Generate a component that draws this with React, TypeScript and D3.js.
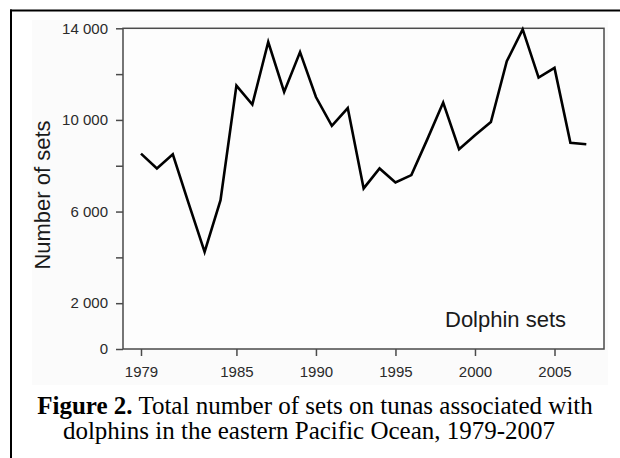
import { useEffect, useRef } from "react"
import * as d3 from "d3"

// Dolphin sets per year
const years = [
  1979, 1980, 1981, 1982, 1983, 1984, 1985, 1986, 1987, 1988, 1989, 1990, 1991, 1992, 1993,
  1994, 1995, 1996, 1997, 1998, 1999, 2000, 2001, 2002, 2003, 2004, 2005, 2006, 2007,
]
const sets = [
  8530, 7880, 8500, 6350, 4240, 6500, 11500, 10670, 13400, 11220, 12960, 11000, 9740, 10520, 7010,
  7880, 7270, 7590, 9150, 10760, 8720, 9330, 9910, 12560, 13950, 11850, 12270, 9000, 8940,
]
const yTicks = [0, 2000, 4000, 6000, 8000, 10000, 12000, 14000]
const yLabelled = [0, 2000, 6000, 10000, 14000]
const xTicks = [1979, 1985, 1990, 1995, 2000, 2005]

export default function App() {
  const svgRef = useRef<SVGSVGElement>(null)

  useEffect(() => {
    if (!svgRef.current) return
    const svg = d3.select(svgRef.current)
    svg.selectAll("*").remove()

    const box = { left: 123, right: 604, top: 28.3, bottom: 349 }
    const sans = "'Liberation Sans', Arial, sans-serif"
    const serif = "'Liberation Serif', 'Times New Roman', serif"

    const x = d3.scaleLinear().domain([1979, 2005]).range([141, 554.5])
    const y = d3.scaleLinear().domain([0, 14000]).range([box.bottom, box.top])

    // page frame
    svg.append("rect").attr("x", 32).attr("y", 20).attr("width", 576).attr("height", 365).attr("fill", "#fbfbfb")
    svg.append("line").attr("x1", 10).attr("x2", 620).attr("y1", 10.5).attr("y2", 10.5).attr("stroke", "#000").attr("stroke-width", 2)
    svg.append("line").attr("x1", 11).attr("x2", 11).attr("y1", 9.5).attr("y2", 458).attr("stroke", "#000").attr("stroke-width", 2)

    // plot box
    svg
      .append("rect")
      .attr("x", box.left)
      .attr("y", box.top)
      .attr("width", box.right - box.left)
      .attr("height", box.bottom - box.top)
      .attr("fill", "#fdfdfd")
      .attr("stroke", "#4a4a4a")
      .attr("stroke-width", 1.5)

    // y axis
    const yAxis = svg
      .append("g")
      .attr("transform", `translate(${box.left},0)`)
      .call(
        d3
          .axisLeft(y)
          .tickValues(yTicks)
          .tickSize(7)
          .tickPadding(8)
          .tickFormat((d) => (yLabelled.includes(+d) ? d3.format(",")(+d).replace(",", " ") : ""))
      )
    yAxis.select(".domain").remove()
    yAxis.selectAll("line").attr("stroke", "#4a4a4a").attr("stroke-width", 1.5)
    yAxis.selectAll("text").attr("font-family", sans).attr("font-size", 15).attr("fill", "#2a2a2a")

    // x axis
    const xAxis = svg
      .append("g")
      .attr("transform", `translate(0,${box.bottom})`)
      .call(d3.axisBottom(x).tickValues(xTicks).tickSize(7).tickPadding(10).tickFormat(d3.format("d")))
    xAxis.select(".domain").remove()
    xAxis.selectAll("line").attr("stroke", "#4a4a4a").attr("stroke-width", 1.5)
    xAxis.selectAll("text").attr("font-family", sans).attr("font-size", 15).attr("fill", "#2a2a2a")

    // series
    const line = d3
      .line<number>()
      .x((_, i) => x(years[i]))
      .y((d) => y(d))
    svg
      .append("path")
      .datum(sets)
      .attr("d", line)
      .attr("fill", "none")
      .attr("stroke", "#000")
      .attr("stroke-width", 2.6)
      .attr("stroke-linejoin", "miter")

    // labels
    svg
      .append("text")
      .attr("transform", "translate(50,195) rotate(-90)")
      .attr("text-anchor", "middle")
      .attr("font-family", sans)
      .attr("font-size", 22)
      .attr("fill", "#1a1a1a")
      .text("Number of sets")

    svg
      .append("text")
      .attr("x", 445)
      .attr("y", 327)
      .attr("font-family", sans)
      .attr("font-size", 22)
      .attr("fill", "#1a1a1a")
      .text("Dolphin sets")

    // caption
    const cap = svg
      .append("text")
      .attr("x", 315)
      .attr("y", 413.5)
      .attr("text-anchor", "middle")
      .attr("font-family", serif)
      .attr("font-size", 25)
      .attr("fill", "#000")
    cap.append("tspan").attr("font-weight", "bold").text("Figure 2.")
    cap.append("tspan").text(" Total number of sets on tunas associated with")
    svg
      .append("text")
      .attr("x", 309)
      .attr("y", 439)
      .attr("text-anchor", "middle")
      .attr("font-family", serif)
      .attr("font-size", 25)
      .attr("fill", "#000")
      .text("dolphins in the eastern Pacific Ocean, 1979-2007")
  }, [])

  return (
    <svg
      ref={svgRef}
      width={620}
      height={458}
      style={{ position: "absolute", left: 0, top: 0, background: "#fff" }}
    />
  )
}
